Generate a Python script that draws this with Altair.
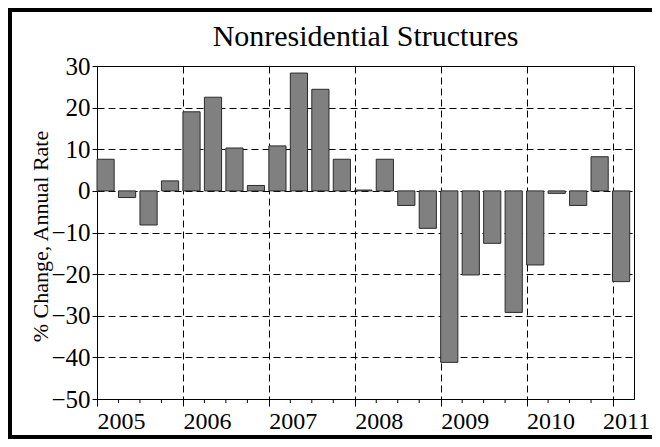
import altair as alt
import pandas as pd

quarters = ["2005Q1", "2005Q2", "2005Q3", "2005Q4",
            "2006Q1", "2006Q2", "2006Q3", "2006Q4",
            "2007Q1", "2007Q2", "2007Q3", "2007Q4",
            "2008Q1", "2008Q2", "2008Q3", "2008Q4",
            "2009Q1", "2009Q2", "2009Q3", "2009Q4",
            "2010Q1", "2010Q2", "2010Q3", "2010Q4",
            "2011Q1"]
values = [7.6, -1.6, -8.2, 2.4,
          19.0, 22.5, 10.3, 1.3,
          10.8, 28.3, 24.4, 7.6,
          0.2, 7.6, -3.5, -9.0,
          -41.2, -20.2, -12.6, -29.2,
          -17.8, -0.6, -3.5, 8.2,
          -21.8]
year_ticks = [2005, 2006, 2007, 2008, 2009, 2010, 2011]
y_ticks = [-50, -40, -30, -20, -10, 0, 10, 20, 30]
title_text = "Nonresidential Structures"
y_title = "% Change, Annual Rate"

df = pd.DataFrame({"quarter": quarters, "value": values})
df["year"] = df["quarter"].str[:4].astype(int)
df["q"] = df["quarter"].str[5].astype(int)
df["start"] = df["year"] + (df["q"] - 1) / 4
df["end"] = df["start"] + 0.2
minor = df[df["q"] != 1][["start"]]

W, H = 537, 333
LEFT, TOP, RIGHT, BOTTOM = 89, 58, 18, 40
FONT = "Liberation Serif"

xscale = alt.Scale(domain=[2005, 2011.25], nice=False, zero=False)
yscale = alt.Scale(domain=[-50, 30], nice=False)

bars = alt.Chart(df).mark_bar(fill="#808080", stroke="#2b2b2b", strokeWidth=1).encode(
    x=alt.X("start:Q", scale=xscale,
            axis=alt.Axis(values=year_ticks, format="d", labelAlign="left",
                          labelBaseline="top", tickSize=7, labelPadding=3,
                          labelOffset={"condition": {"test": "datum.value == 2011", "value": -10},
                                       "value": 0},
                          grid=True, gridDash=[7, 4], gridColor="#000",
                          gridOpacity=1, domainColor="#000", tickColor="#000",
                          labelFont=FONT, labelFontSize=24, labelColor="#000",
                          labelFlush=False, labelOverlap=False,
                          title=None)),
    x2="end:Q",
    y=alt.Y("value:Q", scale=yscale,
            axis=alt.Axis(values=y_ticks, tickSize=5, labelPadding=2,
                          grid=True, gridDash=[7, 4], gridColor="#000",
                          gridOpacity=1, domainColor="#000", tickColor="#000",
                          labelFont=FONT, labelFontSize=25, labelColor="#000",
                          labelOverlap=False,
                          title=y_title, titleFont=FONT, titleFontSize=22,
                          titleColor="#000",
                          titleFontWeight="normal", titleAngle=-90,
                          titleBaseline="middle", titleAlign="center",
                          titleX=-57, titleY=170)),
    y2=alt.datum(0),
)

ticks = alt.Chart(minor).mark_rule(color="#000", strokeWidth=1).encode(
    x=alt.X("start:Q", scale=xscale),
    y=alt.value(H),
    y2=alt.value(H + 4),
)

one = pd.DataFrame({"t": [title_text]})

edge = dict(color="#000", strokeWidth=4)
frame_top = alt.Chart(one).mark_rule(**edge).encode(
    x=alt.value(-LEFT), x2=alt.value(W + RIGHT), y=alt.value(-TOP + 2))
frame_left = alt.Chart(one).mark_rule(**edge).encode(
    x=alt.value(-LEFT + 2), y=alt.value(-TOP), y2=alt.value(H + BOTTOM))
frame_bottom = alt.Chart(one).mark_rule(**edge).encode(
    x=alt.value(-LEFT), x2=alt.value(W + RIGHT), y=alt.value(H + BOTTOM - 2))

title = alt.Chart(one).mark_text(
    font=FONT, fontSize=30, color="#000", align="center", baseline="alphabetic"
).encode(
    x=alt.value(W / 2), y=alt.value(-20), text="t:N",
)

chart = alt.layer(bars, ticks, frame_top, frame_left, frame_bottom, title).properties(
    width=W, height=H,
    autosize=alt.AutoSizeParams(type="none"),
    padding={"left": LEFT, "top": TOP, "right": RIGHT, "bottom": BOTTOM},
).configure_view(
    stroke="#000", strokeWidth=1
)

chart.save("out.html", embed_options={"renderer": "svg", "actions": False})
